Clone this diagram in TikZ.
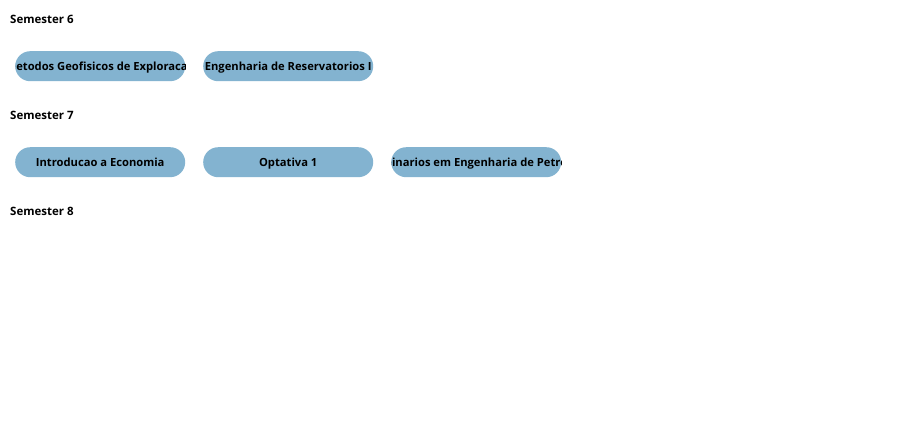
\documentclass[tikz,border=0pt]{standalone}
\usepackage{fontspec}
\setmainfont{Open Sans}
\definecolor{pill}{HTML}{83B3D0}
\newcommand{\coursepill}[3]{%
  \node[course] (#1) at (#2) {};
  \begin{scope}
    \clip[rounded corners=15pt] (#1.north west) rectangle (#1.south east);
    \node[ctext] (#1-t) at ([yshift=-4pt]#1.center) {#3};
  \end{scope}}
\begin{document}
\begin{tikzpicture}[x=1pt,y=-1pt,
  sem/.style={anchor=base west,inner sep=0pt,font=\fontsize{11.5}{14}\selectfont\bfseries},
  course/.style={draw=none,fill=pill,minimum width=170pt,minimum height=30pt,rounded corners=15pt,inner sep=0pt,anchor=north west},
  ctext/.style={inner sep=0pt,anchor=base,font=\fontsize{11.2}{14}\selectfont\bfseries}]
\useasboundingbox (0,0) rectangle (909,429);
\node[sem] (s6) at (10,23) {Semester 6};
\coursepill{c61}{15,51}{Metodos Geofisicos de Exploracao}
\coursepill{c62}{203,51}{Engenharia de Reservatorios I}
\node[sem] (s7) at (10,119) {Semester 7};
\coursepill{c71}{15,147}{Introducao a Economia}
\coursepill{c72}{203,147}{Optativa 1}
\coursepill{c73}{391,147}{Seminarios em Engenharia de Petroleo}
\node[sem] (s8) at (10,215) {Semester 8};
\end{tikzpicture}
\end{document}
